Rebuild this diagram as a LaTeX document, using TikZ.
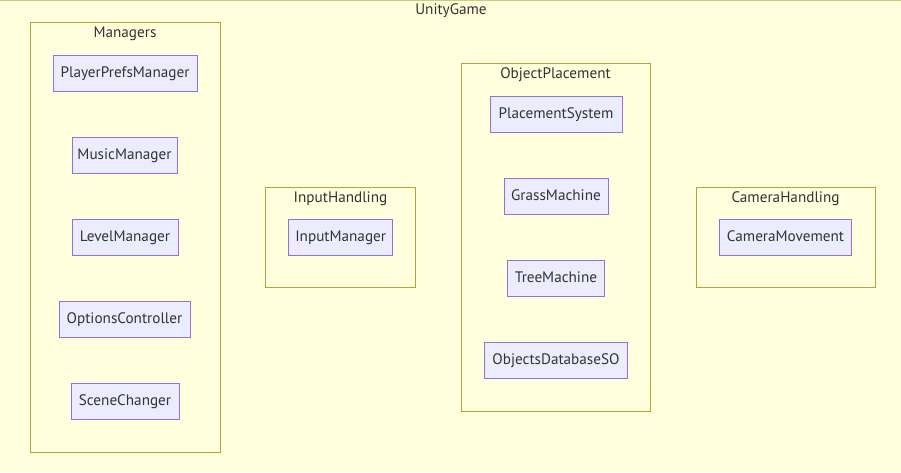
\documentclass[tikz,border=0pt]{standalone}
\usepackage{fontspec}
\setmainfont{PT Sans}
\definecolor{nodefill}{HTML}{ECECFF}
\definecolor{nodeline}{HTML}{9370DB}
\definecolor{clusterfill}{HTML}{FFFFDE}
\definecolor{clusterline}{HTML}{AAAA33}
\definecolor{textgray}{HTML}{333333}
\tikzset{
  classbox/.style 2 args={draw=nodeline, fill=nodefill, line width=0.75pt,
    minimum width=#1*0.75pt, minimum height=#2*0.75pt, inner sep=0pt,
    text height=8.5pt, text depth=2.5pt,
    text=textgray, font=\fontsize{11.4}{14}\selectfont},
  groupbox/.style 2 args={draw=clusterline, fill=clusterfill, line width=0.75pt,
    minimum width=#1*0.75pt, minimum height=#2*0.75pt, inner sep=0pt},
  grouplabel/.style={text=textgray, font=\fontsize{11.4}{14}\selectfont, inner sep=0pt,
    text height=8.5pt, text depth=2.5pt}
}
\begin{document}
\begin{tikzpicture}[x=0.75pt, y=-0.75pt]
  % background / outer cluster
  \fill[clusterfill] (0,0) rectangle (901,472);
  \useasboundingbox (0,0) rectangle (901,472);
  \draw[clusterline!60, line width=0.75pt] (0,0.5) -- (901,0.5);
  \node[grouplabel] (unity) at (451,10) {UnityGame};

  % Managers
  \node[groupbox={190}{430}] (managers) at (125,237) {};
  \node[grouplabel] (managerslbl) at (125,33) {Managers};
  \node[classbox={144}{36}] (ppm) at (125,73) {PlayerPrefsManager};
  \node[classbox={105}{36}] (mm) at (124.5,155) {MusicManager};
  \node[classbox={106}{36}] (lm) at (125,237) {LevelManager};
  \node[classbox={131}{36}] (oc) at (124.5,319) {OptionsController};
  \node[classbox={108}{36}] (sc) at (125,401.5) {SceneChanger};

  % InputHandling
  \node[groupbox={150}{100.5}] (input) at (340.5,237.5) {};
  \node[grouplabel] (inputlbl) at (340.5,198) {InputHandling};
  \node[classbox={104}{36}] (im) at (340.7,237.5) {InputManager};

  % ObjectPlacement
  \node[groupbox={189}{348}] (objp) at (555.5,237) {};
  \node[grouplabel] (objplbl) at (555.5,74) {ObjectPlacement};
  \node[classbox={132}{36}] (ps) at (556,114) {PlacementSystem};
  \node[classbox={104}{36}] (gm) at (556,196) {GrassMachine};
  \node[classbox={97}{36}] (tm) at (556,278) {TreeMachine};
  \node[classbox={143}{36}] (odb) at (556,360.5) {ObjectsDatabaseSO};

  % CameraHandling
  \node[groupbox={179}{100.5}] (cam) at (785.5,237.5) {};
  \node[grouplabel] (camlbl) at (785.5,198) {CameraHandling};
  \node[classbox={132}{36}] (cm) at (785.5,237.5) {CameraMovement};
\end{tikzpicture}
\end{document}
